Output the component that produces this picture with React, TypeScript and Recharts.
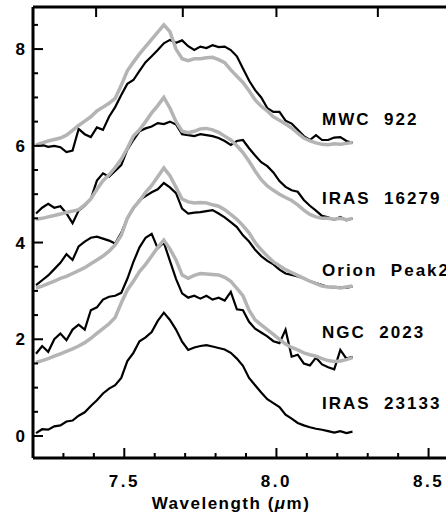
import { LineChart, Line, XAxis, YAxis, ReferenceDot } from 'recharts';

// wavelength grid (micron), shared by every spectrum
const WAVELENGTH = [
    7.21, 7.23, 7.25, 7.27, 7.29, 7.31, 7.33, 7.35, 7.37, 7.39,
    7.41, 7.43, 7.45, 7.47, 7.49, 7.51, 7.53, 7.55, 7.57, 7.59,
    7.61, 7.63, 7.65, 7.67, 7.69, 7.71, 7.73, 7.75, 7.77, 7.79,
    7.81, 7.83, 7.85, 7.87, 7.89, 7.91, 7.93, 7.95, 7.97, 7.99,
    8.01, 8.03, 8.05, 8.07, 8.09, 8.11, 8.13, 8.15, 8.17, 8.19,
    8.21, 8.23, 8.25,
];

// observed (black) and model (grey) spectra, offset vertically
const MWC_922_OBS = [
    6.0, 6.02, 5.98, 6.0, 5.97, 5.87, 5.9, 6.35, 6.24, 6.18,
    6.38, 6.33, 6.6, 6.8, 7.05, 7.28, 7.36, 7.55, 7.73, 7.85,
    7.98, 8.12, 8.19, 8.13, 8.18, 8.06, 7.98, 8.05, 8.02, 8.08,
    8.04, 8.05, 7.98, 7.85, 7.6, 7.35, 7.15, 7.0, 6.78, 6.7,
    6.7, 6.52, 6.46, 6.33, 6.2, 6.12, 6.22, 6.12, 6.12, 6.17,
    6.18, 6.1, 6.06,
];
const MWC_922_FIT = [
    6.02, 6.06, 6.1, 6.13, 6.16, 6.22, 6.32, 6.42, 6.51, 6.6,
    6.72, 6.8, 6.88, 6.98, 7.25, 7.55, 7.73, 7.9, 8.05, 8.2,
    8.35, 8.5, 8.36, 8.0, 7.8, 7.76, 7.8, 7.8, 7.82, 7.83,
    7.78, 7.72, 7.57, 7.44, 7.31, 7.14, 6.95, 6.82, 6.72, 6.6,
    6.53, 6.45, 6.37, 6.26, 6.16, 6.1, 6.06, 6.03, 6.02, 6.04,
    6.03, 6.05, 6.07,
];
const IRAS_16279_OBS = [
    4.6, 4.72, 4.8, 4.72, 4.75, 4.6, 4.4, 4.66, 4.76, 4.9,
    5.28, 5.43, 5.36, 5.48, 5.6, 5.92, 6.12, 6.3, 6.36, 6.4,
    6.47, 6.45, 6.5, 6.44, 6.24, 6.22, 6.2, 6.24, 6.22, 6.2,
    6.16, 6.1, 6.02, 6.1, 6.12, 5.95, 5.8, 5.66, 5.58, 5.45,
    5.27, 5.15, 5.08, 5.05, 4.88, 4.76, 4.66, 4.55, 4.52, 4.47,
    4.53, 4.46, 4.5,
];
const IRAS_16279_FIT = [
    4.48, 4.5, 4.53, 4.56, 4.59, 4.62, 4.65, 4.68, 4.78, 4.9,
    5.1, 5.28, 5.4, 5.55, 5.72, 5.95, 6.2, 6.33, 6.5, 6.68,
    6.83, 7.0, 6.78, 6.5, 6.3, 6.27, 6.3, 6.35, 6.36, 6.33,
    6.28, 6.2, 6.12, 6.0, 5.86, 5.68, 5.48, 5.3, 5.17, 5.08,
    5.0, 4.93, 4.87, 4.78, 4.67, 4.58, 4.53, 4.5, 4.5, 4.48,
    4.5, 4.47, 4.5,
];
const ORION_OBS = [
    3.12, 3.22, 3.32, 3.45, 3.58, 3.76, 3.64, 3.92, 4.02, 4.1,
    4.12, 4.08, 4.04, 3.98, 4.2, 4.5, 4.7, 4.88, 4.96, 5.04,
    5.1, 5.23, 5.14, 5.02, 4.7, 4.6, 4.62, 4.63, 4.65, 4.67,
    4.6, 4.52, 4.42, 4.32, 4.15, 4.02, 3.85, 3.72, 3.62, 3.55,
    3.44, 3.36, 3.33, 3.3, 3.26, 3.2, 3.16, 3.12, 3.08, 3.07,
    3.08, 3.06, 3.09,
];
const ORION_FIT = [
    3.06, 3.1, 3.15, 3.2, 3.26, 3.3, 3.36, 3.42, 3.48, 3.56,
    3.64, 3.72, 3.82, 3.95, 4.15, 4.5, 4.72, 4.86, 5.04, 5.18,
    5.36, 5.54, 5.38, 5.14, 4.9, 4.84, 4.82, 4.83, 4.82, 4.78,
    4.75, 4.68, 4.58, 4.48, 4.35, 4.2, 4.0, 3.85, 3.72, 3.6,
    3.52, 3.44, 3.38, 3.32, 3.26, 3.2, 3.15, 3.1, 3.08, 3.08,
    3.06, 3.08, 3.1,
];
const NGC_2023_OBS = [
    1.7, 1.86, 1.74, 2.0, 2.12, 1.98, 2.2, 2.3, 2.2, 2.6,
    2.66, 2.82, 2.88, 2.9, 2.96, 3.25, 3.6, 3.9, 4.1, 4.18,
    3.88, 4.0, 3.62, 3.25, 2.95, 2.86, 2.9, 2.84, 2.9, 2.82,
    2.86, 2.8, 2.98, 2.62, 2.6, 2.36, 2.22, 2.14, 2.06, 1.96,
    1.92, 2.2, 1.64, 1.68, 1.5, 1.46, 1.62, 1.48, 1.42, 1.38,
    1.78, 1.6, 1.64,
];
const NGC_2023_FIT = [
    1.52, 1.56, 1.6, 1.65, 1.7, 1.75, 1.8, 1.86, 1.93, 2.02,
    2.12, 2.22, 2.32, 2.45, 2.75, 3.02, 3.2, 3.4, 3.55, 3.72,
    3.9, 4.05, 3.87, 3.64, 3.33, 3.26, 3.32, 3.36, 3.35, 3.34,
    3.33, 3.28, 3.2, 3.05, 2.9, 2.6, 2.4, 2.3, 2.2, 2.1,
    2.0, 1.9, 1.83, 1.78, 1.72, 1.68, 1.65, 1.6, 1.56, 1.54,
    1.55, 1.58, 1.62,
];
const IRAS_23133_OBS = [
    0.06, 0.14, 0.13, 0.2, 0.22, 0.3, 0.32, 0.42, 0.49, 0.62,
    0.74, 0.88, 0.98, 1.05, 1.2, 1.55, 1.72, 1.96, 2.04, 2.15,
    2.38, 2.55, 2.4, 2.2, 1.95, 1.78, 1.83, 1.86, 1.88, 1.85,
    1.82, 1.79, 1.72, 1.6, 1.45, 1.2, 1.05, 0.9, 0.76, 0.68,
    0.6, 0.44, 0.36, 0.27, 0.22, 0.18, 0.15, 0.13, 0.1, 0.07,
    0.1, 0.06, 0.09,
];

const LABEL_NAMES = ['MWC  922', 'IRAS  16279', 'Orion  Peak2', 'NGC  2023', 'IRAS  23133'];
const LABEL_Y = [6.55, 4.92, 3.43, 2.15, 0.69];
const LABEL_X = 8.15;

const X_DOMAIN: [number, number] = [7.2, 8.6];
const Y_DOMAIN: [number, number] = [-0.455, 8.87];
const X_MINOR = [7.3, 7.4, 7.6, 7.7, 7.8, 7.9, 8.1, 8.2, 8.3, 8.4];
const X_MAJOR = [7.5, 8.0, 8.5];
const Y_MINOR = [0.5, 1, 1.5, 2.5, 3, 3.5, 4.5, 5, 5.5, 6.5, 7, 7.5, 8.5];
const Y_MAJOR = [0, 2, 4, 6, 8];
// top axis: wavenumber (cm^-1), marks only
const WAVENUMBER_TICKS = [1350, 1300, 1250, 1200];

const BLACK = '#000000';
const GREY = '#b4b4b4';
const FONT = "'Liberation Sans', Arial, sans-serif";

// chart box
const W = 470;
const H = 516;
const M = { top: 7, right: 11, left: 0, bottom: 0 };
const Y_AXIS_W = 33;
const X_AXIS_H = 58;
const PLOT = {
    left: M.left + Y_AXIS_W,
    top: M.top,
    right: W - M.right,
    bottom: H - M.bottom - X_AXIS_H,
};
const px = (v: number) =>
    PLOT.left + ((v - X_DOMAIN[0]) / (X_DOMAIN[1] - X_DOMAIN[0])) * (PLOT.right - PLOT.left);
const py = (v: number) =>
    PLOT.top + ((Y_DOMAIN[1] - v) / (Y_DOMAIN[1] - Y_DOMAIN[0])) * (PLOT.bottom - PLOT.top);

const SERIES = [
    { key: 'mwc-obs', values: MWC_922_OBS, fit: false },
    { key: 'mwc-fit', values: MWC_922_FIT, fit: true },
    { key: 'i16279-obs', values: IRAS_16279_OBS, fit: false },
    { key: 'i16279-fit', values: IRAS_16279_FIT, fit: true },
    { key: 'orion-obs', values: ORION_OBS, fit: false },
    { key: 'orion-fit', values: ORION_FIT, fit: true },
    { key: 'ngc-obs', values: NGC_2023_OBS, fit: false },
    { key: 'ngc-fit', values: NGC_2023_FIT, fit: true },
    { key: 'i23133-obs', values: IRAS_23133_OBS, fit: false },
];

const tickFont = { fontFamily: FONT, fontWeight: 'bold', fontSize: 17, fill: BLACK };

// top frame and inward tick marks (IDL style box), in a layer above the chart
function FrameOverlay() {
    return (
        <svg
            width={W}
            height={H}
            style={{ position: 'absolute', left: 0, top: 0, zIndex: 5, pointerEvents: 'none' }}
        >
            <rect x={PLOT.left} y={PLOT.top - 1.5} width={PLOT.right - PLOT.left} height={3} fill={BLACK} />
            {WAVENUMBER_TICKS.map((k) => (
                <rect key={`wn-${k}`} x={px(1e4 / k) - 1} y={PLOT.top} width={2} height={10} fill={BLACK} />
            ))}
            {[...X_MAJOR, ...X_MINOR].map((v) => {
                const len = X_MAJOR.includes(v) ? 10 : 5;
                return <rect key={`xt-${v}`} x={px(v) - 1} y={PLOT.bottom - len} width={2} height={len} fill={BLACK} />;
            })}
            {[...Y_MAJOR, ...Y_MINOR].map((v) => {
                const len = Y_MAJOR.includes(v) ? 10 : 5;
                return <rect key={`yt-${v}`} x={PLOT.left} y={py(v) - 1} width={len} height={2} fill={BLACK} />;
            })}
        </svg>
    );
}

export default function App() {
    const seriesData = SERIES.map((s) => ({
        ...s,
        data: WAVELENGTH.map((w, i) => ({ x: w, y: s.values[i] })),
    }));

    return (
        <div
            style={{
                position: 'absolute',
                left: 0,
                top: 0,
                width: 446,
                height: 516,
                overflow: 'hidden',
                background: '#fff',
            }}
        >
            <LineChart width={W} height={H} margin={M}>
                <XAxis
                    dataKey="x"
                    type="number"
                    domain={X_DOMAIN}
                    ticks={X_MAJOR}
                    interval={0}
                    height={X_AXIS_H}
                    tickSize={0}
                    tickMargin={17}
                    tickLine={false}
                    tickFormatter={(v: number) => v.toFixed(1)}
                    tick={{ ...tickFont, style: { letterSpacing: '2.5px' } }}
                    axisLine={{ stroke: BLACK, strokeWidth: 3 }}
                    allowDataOverflow
                />
                <YAxis
                    type="number"
                    domain={Y_DOMAIN}
                    ticks={Y_MAJOR}
                    interval={0}
                    width={Y_AXIS_W}
                    tickSize={0}
                    tickMargin={8}
                    tickLine={false}
                    tick={tickFont}
                    axisLine={{ stroke: BLACK, strokeWidth: 3 }}
                    allowDataOverflow
                />
                {seriesData.map((s) => (
                    <Line
                        key={s.key}
                        data={s.data}
                        dataKey="y"
                        type="linear"
                        stroke={s.fit ? GREY : BLACK}
                        strokeWidth={s.fit ? 3.5 : 2.2}
                        dot={false}
                        isAnimationActive={false}
                    />
                ))}
                {LABEL_NAMES.map((name, i) => (
                    <ReferenceDot
                        key={name}
                        x={LABEL_X}
                        y={LABEL_Y[i]}
                        ifOverflow="visible"
                        shape={(p: any) => (
                            <text
                                x={p.cx}
                                y={p.cy + 6}
                                fontFamily={FONT}
                                fontWeight="bold"
                                fontSize={17}
                                fill={BLACK}
                                style={{ letterSpacing: '2px', whiteSpace: 'pre' }}
                            >
                                {name}
                            </text>
                        )}
                    />
                ))}
                <text
                    x={231}
                    y={509}
                    textAnchor="middle"
                    fontFamily={FONT}
                    fontWeight="bold"
                    fontSize={17}
                    fill={BLACK}
                    style={{ letterSpacing: '1.5px' }}
                >
                    Wavelength (<tspan fontStyle="italic">μ</tspan>m)
                </text>
            </LineChart>
            <FrameOverlay />
        </div>
    );
}
